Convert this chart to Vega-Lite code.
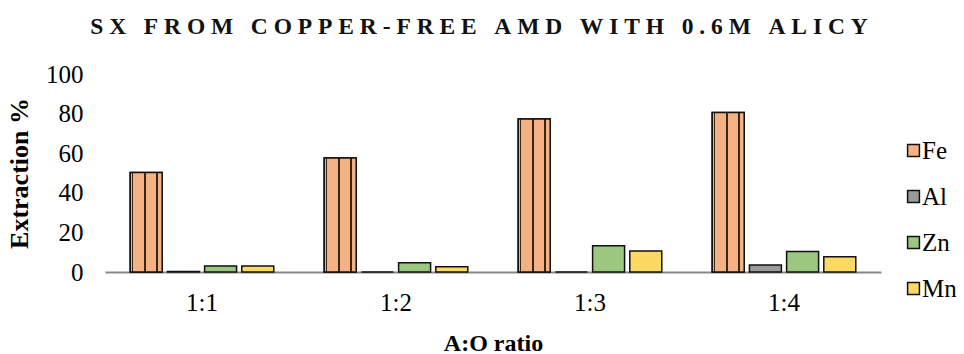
{
  "$schema": "https://vega.github.io/schema/vega-lite/v6.json",
  "width": 776,
  "height": 198,
  "autosize": {"type": "none"},
  "padding": {"left": 105, "top": 74, "right": 83, "bottom": 82},
  "background": "white",
  "title": {
    "text": "S\u2005X\u2005 \u2005F\u2005R\u2005O\u2005M\u2005 \u2005C\u2005O\u2005P\u2005P\u2005E\u2005R\u2005-\u2005F\u2005R\u2005E\u2005E\u2005 \u2005A\u2005M\u2005D\u2005 \u2005W\u2005I\u2005T\u2005H\u2005 \u20050\u2005.\u20056\u2005M\u2005 \u2005A\u2005L\u2005I\u2005C\u2005Y",
    "font": "Liberation Serif",
    "fontSize": 23.5,
    "fontWeight": "bold",
    "color": "#111111",
    "anchor": "middle",
    "dx": -14,
    "offset": 24
  },
  "config": {
    "view": {"stroke": null},
    "font": "Liberation Serif",
    "title": {"limit": 0}
  },
  "data": {
    "values": [
      {"ratio": "1:1", "metal": "Fe", "value": 50.2},
      {"ratio": "1:1", "metal": "Al", "value": 0.3},
      {"ratio": "1:1", "metal": "Zn", "value": 3.0},
      {"ratio": "1:1", "metal": "Mn", "value": 3.0},
      {"ratio": "1:2", "metal": "Fe", "value": 57.6},
      {"ratio": "1:2", "metal": "Al", "value": 0},
      {"ratio": "1:2", "metal": "Zn", "value": 4.7},
      {"ratio": "1:2", "metal": "Mn", "value": 2.7},
      {"ratio": "1:3", "metal": "Fe", "value": 77.3},
      {"ratio": "1:3", "metal": "Al", "value": 0},
      {"ratio": "1:3", "metal": "Zn", "value": 13.3},
      {"ratio": "1:3", "metal": "Mn", "value": 10.6},
      {"ratio": "1:4", "metal": "Fe", "value": 80.6},
      {"ratio": "1:4", "metal": "Al", "value": 3.5},
      {"ratio": "1:4", "metal": "Zn", "value": 10.3},
      {"ratio": "1:4", "metal": "Mn", "value": 7.7}
    ]
  },
  "encoding": {
    "x": {
      "field": "ratio",
      "type": "nominal",
      "sort": ["1:1", "1:2", "1:3", "1:4"],
      "scale": {"paddingInner": 0.26, "paddingOuter": 0.13},
      "axis": {
        "title": "A:O ratio",
        "titleFont": "Liberation Serif",
        "titleFontSize": 24,
        "titleFontWeight": "bold",
        "titleColor": "#000000",
        "titlePadding": 16,
        "labelFont": "Liberation Serif",
        "labelFontSize": 25,
        "labelColor": "#000000",
        "labelAngle": 0,
        "labelPadding": 18,
        "ticks": false,
        "domainColor": "#888888",
        "domainWidth": 2
      }
    },
    "xOffset": {
      "field": "metal",
      "type": "nominal",
      "sort": ["Fe", "Al", "Zn", "Mn"],
      "scale": {"paddingInner": 0.14}
    },
    "y": {
      "field": "value",
      "type": "quantitative",
      "scale": {"domain": [0, 100]},
      "axis": {
        "title": "Extraction %",
        "titleFont": "Liberation Serif",
        "titleFontSize": 26,
        "titleFontWeight": "bold",
        "titleColor": "#000000",
        "titlePadding": 13,
        "labelFont": "Liberation Serif",
        "labelFontSize": 25,
        "labelColor": "#000000",
        "labelPadding": 22,
        "values": [0, 20, 40, 60, 80, 100],
        "ticks": false,
        "domain": false,
        "grid": false
      }
    }
  },
  "layer": [
    {
      "mark": {"type": "bar", "stroke": "#111111", "strokeWidth": 1.5},
      "encoding": {
        "fill": {
          "field": "metal",
          "type": "nominal",
          "sort": ["Fe", "Al", "Zn", "Mn"],
          "scale": {
            "domain": ["Fe", "Al", "Zn", "Mn"],
            "range": ["#f4b183", "#9a9a9a", "#9cc77f", "#fcd864"]
          },
          "legend": {
            "title": null,
            "orient": "none",
            "legendX": 796,
            "legendY": 64,
            "labelFont": "Liberation Serif",
            "labelFontSize": 25,
            "labelColor": "#000000",
            "symbolType": "square",
            "symbolSize": 140,
            "symbolStrokeColor": "#111111",
            "symbolStrokeWidth": 1.5,
            "rowPadding": 20,
            "labelOffset": -4
          }
        }
      }
    },
    {
      "transform": [{"filter": "datum.metal === 'Fe'"}],
      "mark": {
        "type": "bar",
        "stroke": "#111111",
        "strokeWidth": 1.5,
        "fill": {"gradient": "linear", "x1": 0, "y1": 0, "x2": 1, "y2": 0, "stops": [
          {"offset": 0, "color": "#f4b183"},
          {"offset": 0.04, "color": "#f4b183"},
          {"offset": 0.045, "color": "#3b2616"},
          {"offset": 0.09, "color": "#3b2616"},
          {"offset": 0.095, "color": "#f4b183"},
          {"offset": 0.42, "color": "#f4b183"},
          {"offset": 0.425, "color": "#3b2616"},
          {"offset": 0.48, "color": "#3b2616"},
          {"offset": 0.485, "color": "#f4b183"},
          {"offset": 0.81, "color": "#f4b183"},
          {"offset": 0.815, "color": "#3b2616"},
          {"offset": 0.87, "color": "#3b2616"},
          {"offset": 0.875, "color": "#f4b183"},
          {"offset": 1, "color": "#f4b183"}
        ]}
      }
    }
  ]
}
